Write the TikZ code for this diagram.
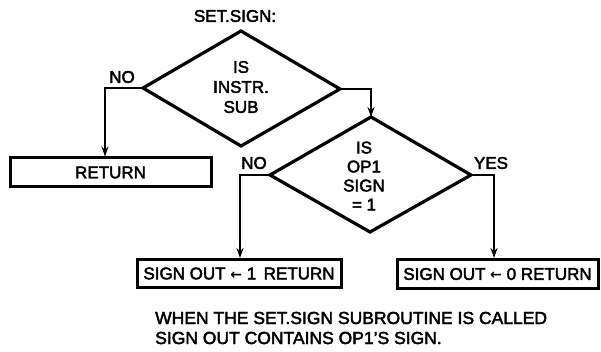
\documentclass[tikz,border=0pt]{standalone}
\usepackage{fontspec}
\setmainfont[BoldFont=Liberation Sans, BoldFeatures={FakeBold=2.5}]{Liberation Sans}
\newfontfamily\arrfont{DejaVu Sans}
\newcommand{\larr}{{\arrfont\fontsize{14}{14}\selectfont ←}}
\usetikzlibrary{arrows.meta}
\begin{document}
\begin{tikzpicture}[x=1pt,y=-1pt,
  txt/.style={font=\fontsize{17}{20}\selectfont\bfseries, align=center, inner sep=0pt},
  lbl/.style={font=\fontsize{17}{20}\selectfont\bfseries, inner sep=0pt},
  dia/.style={line width=3.2pt, line join=miter},
  box/.style={draw, line width=3pt, inner sep=0pt, font=\fontsize{17}{20}\selectfont\bfseries},
  conn/.style={line width=2.2pt, -{Stealth[length=10pt,width=7pt]}}]
\useasboundingbox (0,0) rectangle (601,352);
% diamond 1
\coordinate (d1t) at (241,31);
\coordinate (d1l) at (143,88);
\coordinate (d1r) at (340,89);
\coordinate (d1b) at (241,146);
\draw[dia] (d1t) -- (d1r) -- (d1b) -- (d1l) -- cycle;
\node[txt] (q1) at (241,87) {IS\\INSTR.\\SUB};
\node[lbl] (title) at (235,16) {SET.SIGN:};
% diamond 2
\coordinate (d2t) at (371,117);
\coordinate (d2l) at (270,175);
\coordinate (d2r) at (471,175);
\coordinate (d2b) at (370,232);
\draw[dia] (d2t) -- (d2r) -- (d2b) -- (d2l) -- cycle;
\node[txt, font=\fontsize{17}{19}\selectfont\bfseries] (q2) at (364,176) {IS\\OP1\\SIGN\\= 1};
% boxes
\node[box, minimum width=201pt, minimum height=29pt] (ret) at (110.5,172.5) {RETURN};
\node[box, minimum width=204pt, minimum height=28pt] (b1) at (239,273.5) {SIGN OUT \larr\ 1\, RETURN};
\node[box, minimum width=201pt, minimum height=29pt] (b2) at (497.5,274) {SIGN OUT \larr\ 0 RETURN};
% labels
\node[lbl] (no1) at (122,77) {NO};
\node[lbl] (no2) at (254,163) {NO};
\node[lbl] (yes) at (491,163) {YES};
% connectors
\coordinate (c1) at (105,172.5);
\coordinate (c2) at (240,273.5);
\coordinate (c3) at (494,274);
\draw[conn] (d1l) -| (c1 |- ret.north);
\draw[conn] (d1r) -| (d2t);
\draw[conn] (d2l) -| (c2 |- b1.north);
\draw[conn] (d2r) -| (c3 |- b2.north);
% caption
\node[lbl, anchor=west, font=\fontsize{17.5}{20}\selectfont\bfseries] (cap1) at (155,318) {WHEN THE SET.SIGN SUBROUTINE IS CALLED};
\node[lbl, anchor=west, font=\fontsize{17.5}{20}\selectfont\bfseries] (cap2) at (155,338) {SIGN OUT CONTAINS OP1’S SIGN.};
\end{tikzpicture}
\end{document}
